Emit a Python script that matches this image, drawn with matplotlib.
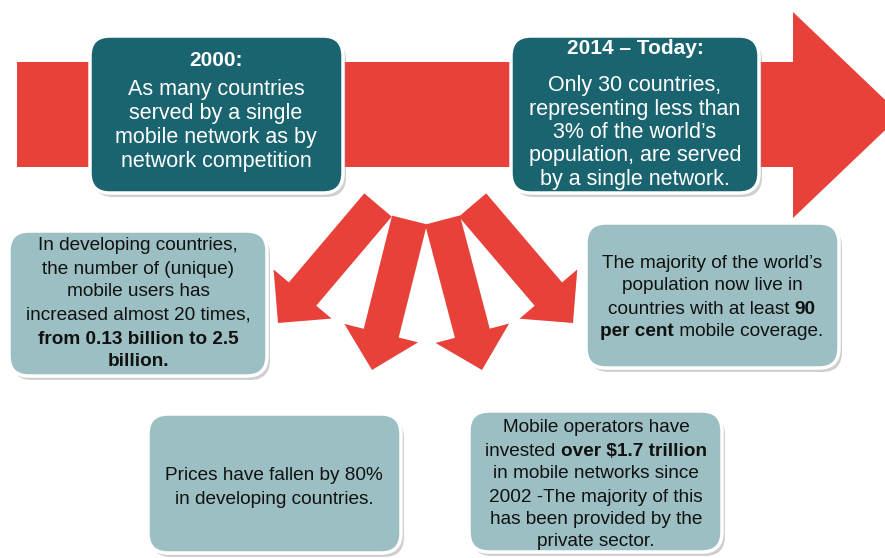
import matplotlib
matplotlib.use("Agg")
import matplotlib.pyplot as plt
import numpy as np
from matplotlib.patches import Polygon, FancyBboxPatch

# ---- content ----
title_2000 = "2000:"
lines_2000 = ["As many countries", "served by a single",
              "mobile network as by", "network competition"]
title_2014 = "2014 \u2013 Today:"
lines_2014 = ["Only 30 countries,", "representing less than",
              "3% of the world\u2019s", "population, are served",
              "by a single network."]
users_lines = [[("In developing countries,", False)],
               [("the number of (unique)", False)],
               [("mobile users has", False)],
               [("increased almost 20 times,", False)],
               [("from 0.13 billion to 2.5", True)],
               [("billion.", True)]]
coverage_lines = [[("The majority of the world\u2019s", False)],
                  [("population now live in", False)],
                  [("countries with at least ", False), ("90", True)],
                  [("per cent", True), (" mobile coverage.", False)]]
prices_lines = [[("Prices have fallen by 80%", False)],
                [("in developing countries.", False)]]
invest_lines = [[("Mobile operators have", False)],
                [("invested ", False), ("over $1.7 trillion", True)],
                [("in mobile networks since", False)],
                [("2002 -The majority of this", False)],
                [("has been provided by the", False)],
                [("private sector.", False)]]

RED = "#e8413a"
DARK = "#1a6470"
LIGHT = "#9bbfc3"
FONT = "Liberation Sans"

W, H = 885, 558
fig = plt.figure(figsize=(W / 100, H / 100), dpi=100)
ax = fig.add_axes([0, 0, 1, 1])
ax.set_xlim(0, W)
ax.set_ylim(H, 0)
ax.axis("off")

# ---- big timeline arrow ----
big = [(17, 62), (793, 62), (793, 12), (901, 115), (793, 218), (793, 167), (17, 167)]
ax.add_patch(Polygon(big, closed=True, facecolor=RED, edgecolor="none", zorder=1))

# ---- four downward arrows ----
def arrow_poly(tail, tip, sw, hw, hl):
    tail = np.array(tail, float); tip = np.array(tip, float)
    d = (tip - tail) / np.linalg.norm(tip - tail)
    n = np.array([-d[1], d[0]])
    neck = tip - d * hl
    pts = [tail + n * sw / 2, neck + n * sw / 2, neck + n * hw / 2, tip,
           neck - n * hw / 2, neck - n * sw / 2, tail - n * sw / 2]
    return pts

arrows = [((378, 205), (278, 323)), ((409.5, 220), (372, 370)),
          ((442.5, 220), (482, 370)), ((472.5, 205), (573, 323))]
for tail, tip in arrows:
    ax.add_patch(Polygon(arrow_poly(tail, tip, 36, 76, 38), closed=True,
                         facecolor=RED, edgecolor="none", zorder=2))

# ---- boxes ----
def box(x0, y0, x1, y1, color):
    r = 20
    ax.add_patch(FancyBboxPatch((x0 + 3, y0 + 4), x1 - x0, y1 - y0,
                                boxstyle=f"round,pad=0,rounding_size={r}",
                                facecolor="#888888", edgecolor="none", alpha=0.4, zorder=3))
    ax.add_patch(FancyBboxPatch((x0, y0), x1 - x0, y1 - y0,
                                boxstyle=f"round,pad=0,rounding_size={r}",
                                facecolor=color, edgecolor="white", linewidth=2.5, zorder=4))

box(90, 36, 343, 193, DARK)
box(511, 36, 759, 193, DARK)
box(9, 231, 267, 376, LIGHT)
box(586, 223, 839, 368, LIGHT)
box(148, 414, 401, 553, LIGHT)
box(469, 411, 722, 552, LIGHT)

fig.canvas.draw()
renderer = fig.canvas.get_renderer()

def draw_lines(cx, ys, lines, size, color):
    for y, segs in zip(ys, lines):
        objs = []
        for s, b in segs:
            t = ax.text(0, y, s, fontsize=size, family=FONT, color=color,
                        fontweight="bold" if b else "normal",
                        ha="left", va="center", zorder=6)
            objs.append(t)
        widths = [t.get_window_extent(renderer).width for t in objs]
        x = cx - sum(widths) / 2
        for t, w in zip(objs, widths):
            t.set_x(x)
            x += w

# dark boxes
draw_lines(216, [61], [[(title_2000, True)]], 15, "white")
draw_lines(216, [89, 113, 137, 161], [[(s, False)] for s in lines_2000], 15.5, "white")
draw_lines(635, [49], [[(title_2014, True)]], 15, "white")
draw_lines(635, [85, 109, 132, 156, 180], [[(s, False)] for s in lines_2014], 15.5, "white")

# light boxes
draw_lines(138, [246, 269, 292, 315, 339, 361], users_lines, 13.7, "#111111")
draw_lines(712, [263, 286, 309, 332], coverage_lines, 13.7, "#111111")
draw_lines(274, [475, 499], prices_lines, 13.7, "#111111")
draw_lines(596, [428, 451, 474, 497, 520, 542], invest_lines, 13.7, "#111111")

fig.savefig("out.png", dpi=100)
